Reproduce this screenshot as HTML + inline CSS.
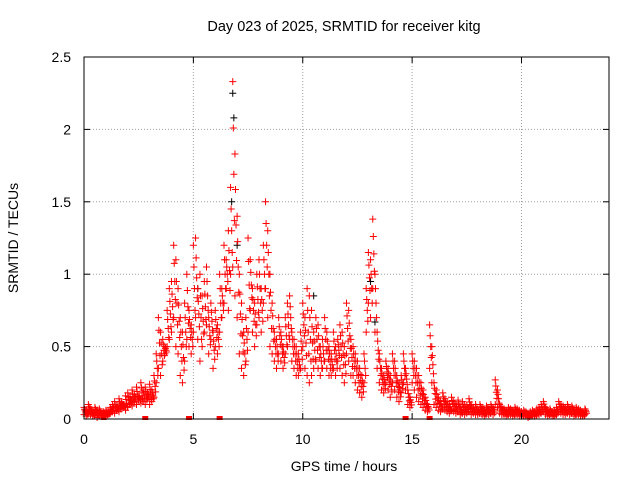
<!DOCTYPE html>
<html><head><meta charset="utf-8"><style>
body{margin:0;background:#fff;}
svg text{font-family:"Liberation Sans",sans-serif;font-size:14px;fill:#000;}
</style></head><body>
<svg id="chart" width="640" height="480" viewBox="0 0 640 480" xmlns="http://www.w3.org/2000/svg">
<rect width="640" height="480" fill="#fff"/>
<text x="344" y="31" text-anchor="middle" style="font-size:14.5px">Day 023 of 2025, SRMTID for receiver kitg</text>
<text x="344" y="471" text-anchor="middle">GPS time / hours</text>
<text transform="translate(18,238) rotate(-90)" text-anchor="middle">SRMTID / TECUs</text>
<g id="grid"></g>
<g id="marks"></g>
<rect x="84" y="57" width="525" height="362" fill="none" stroke="#000" stroke-width="1"/>
<g id="ticks"></g>
</svg>
<script>
const xTicks=[0,5,10,15,20];
const yTicks=[0,0.5,1,1.5,2,2.5];
const yTickLabels=["0","0.5","1","1.5","2","2.5"];
const tStart=0, tStep=0.1;
const upper=[0.08,0.06,0.1,0.07,0.05,0.08,0.06,0.07,0.04,0.05,
0.06,0.05,0.08,0.1,0.12,0.09,0.14,0.12,0.1,0.16,
0.18,0.15,0.2,0.17,0.22,0.16,0.25,0.2,0.22,0.18,
0.24,0.2,0.3,0.45,0.7,0.6,0.55,0.5,0.75,0.9,
0.95,1.2,1.1,0.9,0.7,0.6,0.8,1.0,0.75,0.65,
1.2,1.25,0.9,1.0,0.85,0.95,1.05,0.7,0.8,0.6,
0.75,0.65,1.0,0.9,1.2,1.1,1.3,1.6,2.33,1.83,
1.4,1.0,0.8,0.6,0.7,1.25,1.1,0.9,0.8,1.0,
1.1,0.9,1.2,1.5,1.3,1.0,0.8,0.6,0.55,0.7,
0.6,0.5,0.7,0.8,0.85,0.6,0.55,0.5,0.45,0.6,
0.8,0.7,0.9,0.85,0.75,0.6,0.7,0.65,0.5,0.55,
0.7,0.6,0.5,0.45,0.6,0.5,0.55,0.65,0.6,0.5,
0.8,0.75,0.55,0.5,0.45,0.4,0.35,0.3,0.45,0.9,
1.15,1.1,1.38,1.0,0.6,0.45,0.35,0.3,0.4,0.35,
0.3,0.45,0.4,0.3,0.25,0.3,0.45,0.35,0.2,0.15,
0.45,0.4,0.35,0.3,0.25,0.2,0.15,0.1,0.65,0.5,
0.25,0.2,0.15,0.12,0.18,0.14,0.12,0.1,0.15,0.12,
0.1,0.13,0.08,0.12,0.1,0.09,0.14,0.1,0.08,0.1,
0.07,0.1,0.08,0.06,0.09,0.07,0.1,0.08,0.27,0.2,
0.1,0.08,0.07,0.06,0.08,0.07,0.06,0.08,0.07,0.06,
0.05,0.06,0.05,0.04,0.05,0.06,0.05,0.07,0.08,0.1,
0.12,0.08,0.06,0.07,0.05,0.06,0.08,0.12,0.1,0.09,
0.08,0.1,0.07,0.09,0.06,0.08,0.07,0.06,0.05,0.07];
const lower=[0.03,0.02,0.04,0.03,0.02,0.03,0.01,0.02,0.03,0.02,
0.02,0.03,0.04,0.05,0.04,0.06,0.05,0.07,0.08,0.06,
0.08,0.1,0.09,0.12,0.1,0.13,0.11,0.12,0.1,0.14,
0.1,0.12,0.15,0.25,0.35,0.3,0.4,0.45,0.5,0.55,
0.6,0.7,0.5,0.45,0.3,0.25,0.4,0.55,0.5,0.45,
0.6,0.7,0.55,0.4,0.5,0.6,0.65,0.45,0.55,0.35,
0.5,0.45,0.6,0.7,0.8,0.9,0.75,1.0,1.05,0.85,
0.7,0.45,0.35,0.3,0.4,0.6,0.75,0.6,0.5,0.65,
0.7,0.6,0.8,0.9,0.7,0.5,0.45,0.4,0.35,0.45,
0.4,0.35,0.45,0.5,0.55,0.4,0.35,0.3,0.3,0.35,
0.5,0.35,0.3,0.25,0.3,0.35,0.4,0.35,0.3,0.35,
0.4,0.35,0.3,0.3,0.35,0.3,0.4,0.35,0.3,0.25,
0.45,0.4,0.3,0.3,0.25,0.2,0.18,0.15,0.25,0.6,
0.8,0.7,0.9,0.6,0.35,0.25,0.2,0.18,0.25,0.2,
0.15,0.25,0.2,0.15,0.12,0.18,0.25,0.2,0.1,0.08,
0.25,0.2,0.15,0.12,0.1,0.08,0.06,0.05,0.35,0.25,
0.1,0.08,0.06,0.05,0.07,0.06,0.05,0.04,0.06,0.05,
0.04,0.05,0.03,0.04,0.03,0.04,0.05,0.03,0.04,0.03,
0.03,0.04,0.03,0.02,0.04,0.03,0.04,0.03,0.1,0.08,
0.04,0.03,0.03,0.02,0.03,0.03,0.02,0.03,0.03,0.02,
0.02,0.02,0.02,0.01,0.02,0.02,0.02,0.03,0.03,0.04,
0.05,0.03,0.02,0.03,0.02,0.02,0.03,0.05,0.04,0.03,
0.03,0.04,0.03,0.04,0.02,0.03,0.03,0.02,0.02,0.03];
const blackTimes=[6.75,6.8,6.85,7.0,13.1,13.3,10.5,5.2];
const blackValues=[1.5,2.25,2.08,1.2,0.95,0.67,0.85,0.9];
const zeroTimes=[0.9,2.8,4.8,6.2,14.7,15.8];

const X=h=>84+h*(525/24);
const Y=v=>419-v*(362/2.5);
const NS="http://www.w3.org/2000/svg";
const grid=document.getElementById('grid'),ticks=document.getElementById('ticks'),marks=document.getElementById('marks');
function line(p,x1,y1,x2,y2,st,dash){const l=document.createElementNS(NS,'line');l.setAttribute('x1',x1);l.setAttribute('y1',y1);l.setAttribute('x2',x2);l.setAttribute('y2',y2);l.setAttribute('stroke',st);if(dash)l.setAttribute('stroke-dasharray',dash);p.appendChild(l);return l;}
function txt(p,x,y,s,a){const t=document.createElementNS(NS,'text');t.setAttribute('x',x);t.setAttribute('y',y);t.setAttribute('text-anchor',a);t.textContent=s;p.appendChild(t);return t;}
xTicks.forEach(v=>{const x=X(v);
 const g=line(grid,x,57,x,419,'#a0a0a0','1,2');
 
 
 line(ticks,x,419,x,413,'#000');line(ticks,x,57,x,63,'#000');
 const t=txt(ticks,x,444,String(v),'middle');
 
 });
yTicks.forEach((v,i)=>{const y=Y(v);
 const g=line(grid,84,y,609,y,'#a0a0a0','1,2');
 
 
 line(ticks,84,y,90,y,'#000');line(ticks,609,y,603,y,'#000');
 const t=txt(ticks,71,y+5,yTickLabels[i],'end');
 
 });
function plus(h,v,c){const x=X(h),y=Y(v);const p=document.createElementNS(NS,'path');
 p.setAttribute('d',`M${x-3.5},${y}H${x+3.5}M${x},${y-3.5}V${y+3.5}`);p.setAttribute('stroke',c);p.setAttribute('fill','none');
 
 
 marks.appendChild(p);}
blackTimes.forEach((h,i)=>plus(h,blackValues[i],'#000'));
upper.forEach((v,i)=>{const h=tStart+i*tStep,lo=lower[i];
 plus(h,v,'#f00');plus(h,lo,'#f00');
 plus(h+0.05,(v+lo)/2,'#f00');
 plus(h+0.025,v*0.75+lo*0.25,'#f00');
 plus(h+0.075,v*0.25+lo*0.75,'#f00');});
zeroTimes.forEach(h=>{const r=document.createElementNS(NS,'rect');r.setAttribute('x',X(h)-3);r.setAttribute('y',Y(0)-3);r.setAttribute('width',6);r.setAttribute('height',4);r.setAttribute('fill','#f00');
 
 
 marks.appendChild(r);});
</script>
</body></html>
